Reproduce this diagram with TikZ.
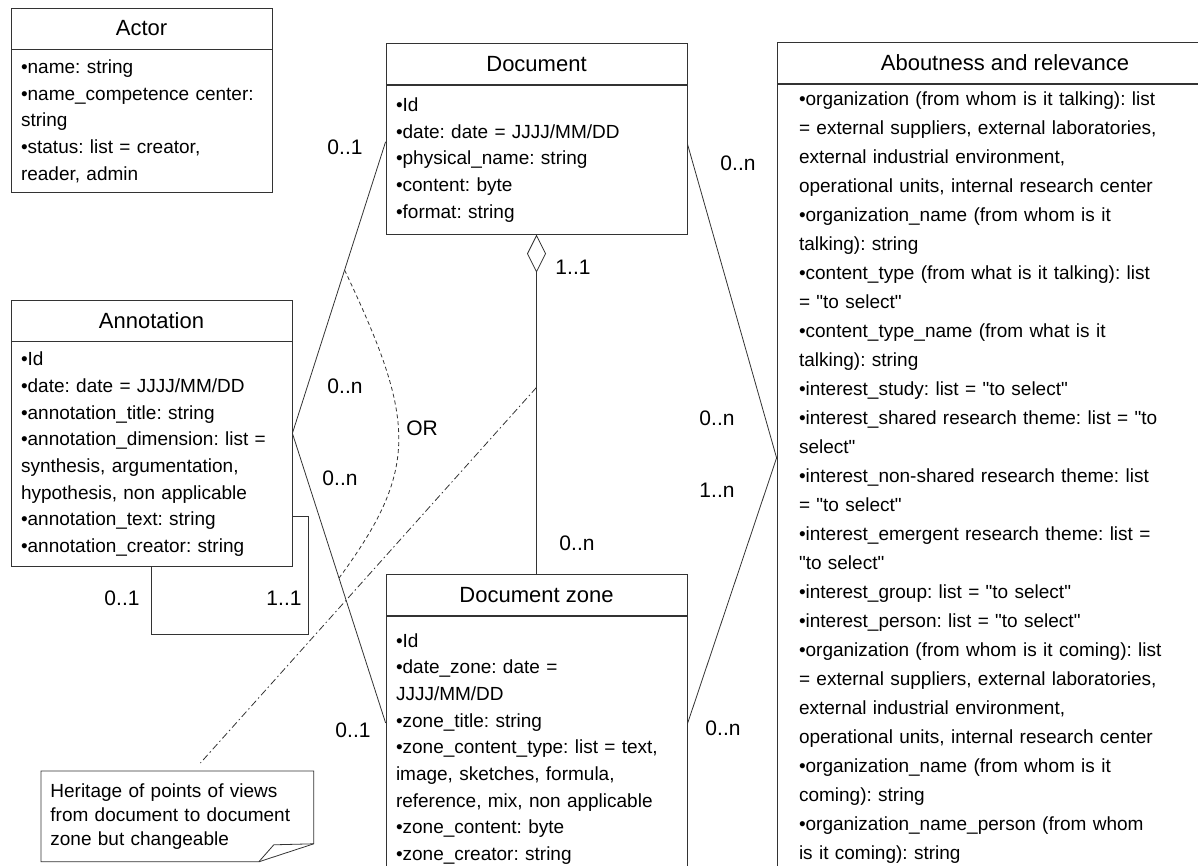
\documentclass[tikz,border=0pt]{standalone}
\usepackage{fontspec}
\setmainfont{Liberation Sans}[Ligatures=TeXOff]
\usetikzlibrary{positioning,arrows.meta}
\frenchspacing

\newcommand{\attrfont}{\fontsize{19}{26.7}\selectfont}
\newcommand{\headfont}{\fontsize{22}{26}\selectfont}
\newcommand{\multfont}{\fontsize{21}{24}\selectfont}

\tikzset{
	clshead/.style={draw, minimum height=41pt, inner sep=0pt, font=\headfont},
	clsbody/.style={draw, align=left, inner xsep=10pt, inner ysep=6pt, font=\attrfont},
	mult/.style={font=\multfont, inner sep=0pt},
	ordash/.style={dash pattern=on 4pt off 3pt},
	notedash/.style={dash pattern=on 7pt off 3pt on 1.5pt off 3pt},
}

\begin{document}
\begin{tikzpicture}[x=1pt, y=-1pt, line width=0.8pt, draw=black!80, text=black]
	\useasboundingbox (0,0) rectangle (1198,866);
	\clip (0,0) rectangle (1198,866);

	% classes
	\node[clshead, minimum width=261pt] (actor) at (141.5,28.5) {Actor};
	\node[clsbody, below=0pt of actor, text width=241pt, minimum height=143pt] (actor-attr)
		{•name: string\\•name\_competence center:\\string\\•status: list = creator,\\reader, admin};

	\node[clshead, minimum width=301pt] (doc) at (536.5,64) {Document};
	\node[clsbody, below=0pt of doc, text width=281pt, minimum height=149pt] (doc-attr)
		{•Id\\•date: date = JJJJ/MM/DD\\•physical\_name: string\\•content: byte\\•format: string};

	\node[clshead, minimum width=281pt] (annot) at (151.5,320.5) {Annotation};
	\node[clsbody, below=0pt of annot, text width=261pt, minimum height=225pt] (annot-attr)
		{•Id\\•date: date = JJJJ/MM/DD\\•annotation\_title: string\\•annotation\_dimension: list =\\
		synthesis, argumentation,\\hypothesis, non applicable\\•annotation\_text: string\\•annotation\_creator: string};

	\node[clshead, minimum width=456pt] (about) at (1005,63) {Aboutness and relevance};
	\node[clsbody, below=0pt of about, inner xsep=22pt, inner ysep=7pt, text width=412pt,
		text depth=820pt, font=\fontsize{19}{29}\selectfont] (about-attr)
		{•organization (from whom is it talking): list\\
		= external suppliers, external laboratories,\\
		external industrial environment,\\
		operational units, internal research center\\
		•organization\_name (from whom is it\\
		talking): string\\
		•content\_type (from what is it talking): list\\
		= "to select"\\
		•content\_type\_name (from what is it\\
		talking): string\\
		•interest\_study: list = "to select"\\
		•interest\_shared research theme: list = "to\\
		select"\\
		•interest\_non-shared research theme: list\\
		= "to select"\\
		•interest\_emergent research theme: list =\\
		"to select"\\
		•interest\_group: list = "to select"\\
		•interest\_person: list = "to select"\\
		•organization (from whom is it coming): list\\
		= external suppliers, external laboratories,\\
		external industrial environment,\\
		operational units, internal research center\\
		•organization\_name (from whom is it\\
		coming): string\\
		•organization\_name\_person (from whom\\
		is it coming): string};

	\node[clshead, minimum width=301pt] (zone) at (536.5,595) {Document zone};
	\node[clsbody, below=0pt of zone, inner ysep=17pt, text width=281pt, text depth=300pt] (zone-attr)
		{•Id\\•date\_zone: date =\\JJJJ/MM/DD\\•zone\_title: string\\•zone\_content\_type: list = text,\\
		image, sketches, formula,\\reference, mix, non applicable\\•zone\_content: byte\\•zone\_creator: string};

	% note with folded corner
	\node[font=\fontsize{19}{24}\selectfont, align=left, text width=254pt, inner xsep=9pt,
		minimum height=90pt, anchor=north west] (note) at (41,771)
		{Heritage of points of views\\from document to document\\zone but changeable};
	\draw (note.north west) -- (note.north east) -- ([yshift=18pt]note.south east)
		-- ([xshift=-55pt]note.south east) -- (note.south west) -- cycle;
	\draw ([xshift=-55pt]note.south east) -- ([xshift=-40pt,yshift=17pt]note.south east)
		-- ([yshift=18pt]note.south east);

	% associations
	\draw ([yshift=18pt]doc-attr.west) -- coordinate[pos=0.44] (or-top) ([yshift=21pt]annot-attr.east)
		-- coordinate[pos=0.5] (or-bot) ([yshift=-107pt]zone-attr.north west);
	\draw ([yshift=16pt]doc-attr.east) -- ([yshift=-374pt]about-attr.north west)
		-- ([yshift=-108pt]zone-attr.north east);
	\draw[{Diamond[open,length=38pt,width=19pt]}-] (doc-attr.south) -- coordinate[pos=0.45] (agg-mid) (zone.north);
	\draw (annot-attr.south) -- ++(0,67) -| ([xshift=16pt,yshift=-175pt]annot-attr.north east)
		-- ([yshift=-175pt]annot-attr.north east);

	\draw[ordash] (or-top) .. controls +(71,150) and +(81,-110) .. (or-bot);
	\node[mult, anchor=west] (or-lbl) at (406,428) {OR};
	\draw[notedash] (agg-mid) -- ([xshift=23pt,yshift=8pt]note.north);

	% multiplicities
	\node[mult] (m-doc-annot)  at (345,147) {0..1};
	\node[mult] (m-annot-doc)  at (345,386) {0..n};
	\node[mult] (m-annot-zone) at (340,478) {0..n};
	\node[mult] (m-zone-annot) at (353,730) {0..1};
	\node[mult] (m-agg-doc)    at (573,267) {1..1};
	\node[mult] (m-agg-zone)   at (577,543) {0..n};
	\node[mult] (m-doc-about)  at (738,163) {0..n};
	\node[mult] (m-about-doc)  at (717,418) {0..n};
	\node[mult] (m-about-zone) at (717,490) {1..n};
	\node[mult] (m-zone-about) at (723,728) {0..n};
	\node[mult] (m-self-a)     at (122,598) {0..1};
	\node[mult] (m-self-b)     at (284,598) {1..1};
\end{tikzpicture}
\end{document}
